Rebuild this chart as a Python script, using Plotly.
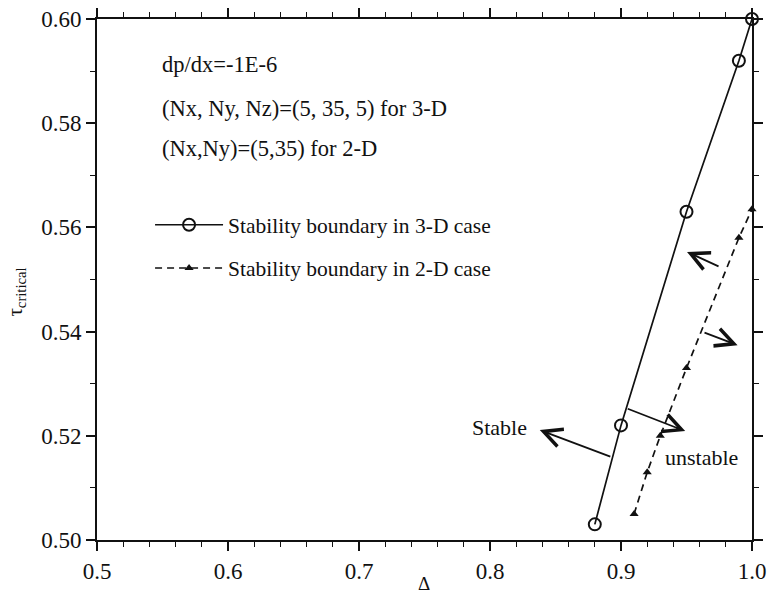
import plotly.graph_objects as go

# Stability boundary data
delta_3d = [0.88, 0.90, 0.95, 0.99, 1.00]
tau_3d = [0.503, 0.522, 0.563, 0.592, 0.600]

delta_2d = [0.91, 0.92, 0.93, 0.95, 0.99, 1.00]
tau_2d = [0.505, 0.513, 0.520, 0.533, 0.558, 0.5635]

x_ticks = [0.5, 0.6, 0.7, 0.8, 0.9, 1.0]
y_ticks = [0.50, 0.52, 0.54, 0.56, 0.58, 0.60]

FONT = "Liberation Serif"
INK = "#111111"

fig = go.Figure()
fig.add_trace(go.Scatter(
    x=delta_3d, y=tau_3d, mode="lines+markers",
    name="Stability boundary in 3-D case",
    line=dict(color=INK, width=1.7),
    marker=dict(symbol="circle-open", size=12, color=INK, line=dict(width=2)),
    cliponaxis=False, legend="legend",
))
fig.add_trace(go.Scatter(
    x=delta_2d, y=tau_2d, mode="lines+markers",
    name="Stability boundary in 2-D case",
    line=dict(color=INK, width=1.7, dash="7px,5px"),
    marker=dict(symbol="triangle-up", size=8, color=INK),
    cliponaxis=False, legend="legend2",
))

axis_common = dict(
    showline=True, linecolor=INK, linewidth=2, mirror="allticks",
    ticks="outside", ticklen=9, tickwidth=1.5, tickcolor=INK,
    showgrid=False, zeroline=False, automargin=False,
    tickfont=dict(family=FONT, size=23, color=INK),
)

fig.update_xaxes(range=[0.5, 1.0], tickvals=x_ticks,
                 ticktext=[f"{v:.1f}" for v in x_ticks],
                 minor=dict(dtick=0.02, tick0=0.5, ticks="outside", ticklen=5,
                            tickwidth=1.2, tickcolor=INK),
                 **axis_common)
fig.update_yaxes(range=[0.50, 0.60], tickvals=y_ticks,
                 ticktext=[f"{v:.2f}" for v in y_ticks],
                 minor=dict(dtick=0.01, tick0=0.5, ticks="outside", ticklen=5,
                            tickwidth=1.2, tickcolor=INK),
                 **axis_common)

notes = [
    ("dp/dx=-1E-6", 0.912),
    ("(Nx, Ny, Nz)=(5, 35, 5) for 3-D", 0.829),
    ("(Nx,Ny)=(5,35) for 2-D", 0.752),
]
annotations = []
for txt, yy in notes:
    annotations.append(dict(text=txt, x=0.096, y=yy, xref="paper", yref="paper",
                            xanchor="left", yanchor="middle", showarrow=False,
                            font=dict(family=FONT, size=22.5, color=INK)))

# Direction arrows (head at x,y; tail at ax,ay)
arrows = [
    (0.838, 0.5211, 0.893, 0.5159),
    (0.949, 0.5209, 0.904, 0.5253),
    (0.989, 0.5374, 0.9626, 0.5399),
    (0.9504, 0.5553, 0.9756, 0.5524),
]
for hx, hy, tx, ty in arrows:
    annotations.append(dict(x=hx, y=hy, ax=tx, ay=ty, xref="x", yref="y",
                            axref="x", ayref="y", text="", showarrow=True,
                            arrowhead=5, arrowsize=2.0, arrowwidth=1.8,
                            arrowcolor=INK))

annotations.append(dict(text="Stable", x=0.807, y=0.5215, xref="x", yref="y",
                        showarrow=False, font=dict(family=FONT, size=22, color=INK)))
annotations.append(dict(text="unstable", x=0.9618, y=0.5159, xref="x", yref="y",
                        showarrow=False, font=dict(family=FONT, size=22, color=INK)))

annotations.append(dict(text="τ<sub>critical</sub>", x=-0.148, y=0.475,
                        xref="paper", yref="paper", textangle=-90, showarrow=False,
                        font=dict(family=FONT, size=21, color=INK)))
annotations.append(dict(text="Δ", x=0.499, y=-0.083, xref="paper", yref="paper",
                        showarrow=False, yanchor="middle",
                        font=dict(family=FONT, size=19, color=INK)))

legend_style = dict(xref="paper", yref="paper", xanchor="left", yanchor="middle",
                    bgcolor="rgba(0,0,0,0)", borderwidth=0, itemwidth=68,
                    font=dict(family=FONT, size=21.5, color=INK))

fig.update_layout(
    width=770, height=594,
    margin=dict(l=97, r=18, t=19, b=54),
    plot_bgcolor="white", paper_bgcolor="white",
    annotations=annotations,
    legend=dict(x=0.081, y=0.605, **legend_style),
    legend2=dict(x=0.081, y=0.522, **legend_style),
    showlegend=True,
)

fig.write_html("out.html")
